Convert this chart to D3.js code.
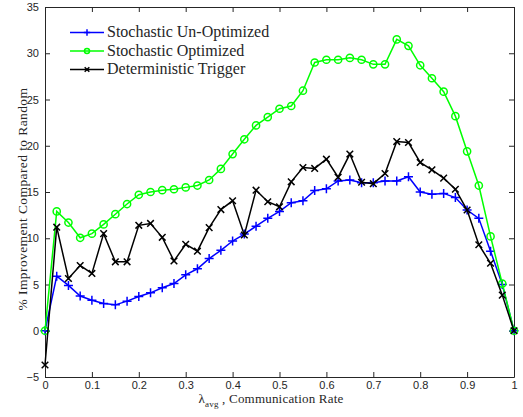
<!DOCTYPE html>
<html>
<head>
<meta charset="utf-8">
<title>Improvement vs communication rate</title>
<script src="https://d3js.org/d3.v7.min.js"></script>
<style>
  body { margin: 0; background: #fff; }
  .tick text { font-family: "Liberation Sans", Arial, sans-serif; font-size: 11px; fill: #262626; }
  .axis path, .axis line { stroke: #262626; }
  .serif { font-family: "Liberation Serif", "DejaVu Serif", serif; fill: #262626; }
</style>
</head>
<body>
<svg id="chart" width="523" height="417"></svg>
<script>
// x values: communication rate, step 0.025
var rates = d3.range(41).map(function(i) { return +(i * 0.025).toFixed(3); });

var unOptimized = [0, 5.9, 4.9, 3.75, 3.3, 2.95, 2.8, 3.2, 3.7, 4.1,
  4.65, 5.1, 6.05, 6.7, 7.8, 8.7, 9.7, 10.45, 11.3, 12.15,
  12.9, 13.85, 14.05, 15.15, 15.35, 16.2, 16.3, 16.0, 16.0, 16.2,
  16.2, 16.65, 15.0, 14.75, 14.85, 14.4, 13.05, 12.15, 8.6, 5.0, 0];

var optimized = [0, 12.9, 11.7, 10.05, 10.5, 11.5, 12.6, 13.7, 14.7, 15.0,
  15.2, 15.3, 15.5, 15.7, 16.3, 17.5, 19.1, 20.7, 22.2, 23.1,
  24.0, 24.3, 25.95, 29.0, 29.3, 29.3, 29.5, 29.3, 28.8, 28.8,
  31.5, 30.8, 28.7, 27.3, 25.85, 23.2, 19.4, 15.7, 10.2, 5.1, 0];

var deterministic = [-3.7, 11.2, 5.65, 7.05, 6.2, 10.5, 7.45, 7.45, 11.4, 11.6,
  10.1, 7.55, 9.35, 8.6, 11.15, 13.1, 14.05, 10.35, 15.2, 13.95,
  13.4, 16.1, 17.65, 17.55, 18.55, 16.6, 19.1, 16.05, 15.9, 17.0,
  20.45, 20.35, 18.2, 17.4, 16.5, 15.3, 13.05, 9.3, 7.3, 3.85, 0];

var seriesNames = ["Stochastic Un-Optimized", "Stochastic Optimized", "Deterministic Trigger"];
var xTicks = [0, 0.1, 0.2, 0.3, 0.4, 0.5, 0.6, 0.7, 0.8, 0.9, 1];
var yTicks = [-5, 0, 5, 10, 15, 20, 25, 30, 35];

var series = [
  { name: seriesNames[0], values: unOptimized, color: "#0000ff", marker: "plus" },
  { name: seriesNames[1], values: optimized, color: "#00ff00", marker: "circle" },
  { name: seriesNames[2], values: deterministic, color: "#000000", marker: "cross" }
];

var padLeft = 45, padRight = 514, padTop = 7, padBottom = 377;

var svg = d3.select("#chart");

var x = d3.scaleLinear().domain([0, 1]).range([padLeft, padRight]);
var y = d3.scaleLinear().domain([-5, 35]).range([padBottom, padTop]);

//----- axes, MATLAB style: box with inward ticks
svg.append("g").attr("class", "axis")
  .attr("transform", "translate(0," + padBottom + ")")
  .call(d3.axisBottom(x).tickValues(xTicks).tickFormat(d3.format("")).tickSizeInner(-5).tickSizeOuter(0).tickPadding(4));
svg.append("g").attr("class", "axis")
  .attr("transform", "translate(0," + padTop + ")")
  .call(d3.axisTop(x).tickValues(xTicks).tickFormat("").tickSizeInner(-5).tickSizeOuter(0));
svg.append("g").attr("class", "axis")
  .attr("transform", "translate(" + padLeft + ",0)")
  .call(d3.axisLeft(y).tickValues(yTicks).tickSizeInner(-5).tickSizeOuter(0).tickPadding(6));
svg.append("g").attr("class", "axis")
  .attr("transform", "translate(" + padRight + ",0)")
  .call(d3.axisRight(y).tickValues(yTicks).tickFormat("").tickSizeInner(-5).tickSizeOuter(0));

//----- markers
function drawMarker(g, type, color, k) {
  k = k || 1;
  if (type === "plus") {
    var a = 4.5 * k;
    g.append("path").attr("d", "M" + (-a) + ",0H" + a + "M0," + (-a) + "V" + a)
      .attr("stroke", color).attr("stroke-width", 1.5).attr("fill", "none");
  } else if (type === "circle") {
    g.append("circle").attr("r", 3.6 * k)
      .attr("stroke", color).attr("stroke-width", 1.5).attr("fill", "none");
  } else {
    var b = 3.3 * k;
    g.append("path").attr("d", "M" + (-b) + "," + (-b) + "L" + b + "," + b + "M" + (-b) + "," + b + "L" + b + "," + (-b))
      .attr("stroke", color).attr("stroke-width", 1.5).attr("fill", "none");
  }
}

var line = d3.line()
  .x(function(d) { return x(d[0]); })
  .y(function(d) { return y(d[1]); });

series.forEach(function(s) {
  var pts = rates.map(function(r, i) { return [r, s.values[i]]; });
  svg.append("path")
    .datum(pts)
    .attr("d", line)
    .attr("fill", "none")
    .attr("stroke", s.color)
    .attr("stroke-width", 1.5);
  pts.forEach(function(p) {
    var g = svg.append("g").attr("transform", "translate(" + x(p[0]) + "," + y(p[1]) + ")");
    drawMarker(g, s.marker, s.color);
  });
});

//----- legend
var legend = svg.append("g");
series.forEach(function(s, i) {
  var ly = 32.5 + i * 18.5;
  legend.append("line")
    .attr("x1", 70).attr("x2", 104).attr("y1", ly).attr("y2", ly)
    .attr("stroke", s.color).attr("stroke-width", 1.5);
  var g = legend.append("g").attr("transform", "translate(87," + ly + ")");
  drawMarker(g, s.marker, s.color, 0.7);
  legend.append("text")
    .attr("class", "serif")
    .attr("x", 107).attr("y", ly + 4.5)
    .attr("font-size", "16px")
    .text(s.name);
});

//----- axis labels
svg.append("text")
  .attr("class", "serif")
  .attr("transform", "translate(27,199) rotate(-90)")
  .attr("text-anchor", "middle")
  .attr("font-size", "13.5px")
  .attr("letter-spacing", "0.4px")
  .text("% Improvement Compared to Random");

var xl = svg.append("text")
  .attr("class", "serif")
  .attr("x", 271)
  .attr("y", 403)
  .attr("text-anchor", "middle")
  .attr("font-size", "13px")
  .attr("letter-spacing", "0.2px");
xl.append("tspan").text("λ");
xl.append("tspan").attr("font-size", "9px").attr("dy", 4).text("avg");
xl.append("tspan").attr("dy", -4).text(" , Communication Rate");
</script>
</body>
</html>
